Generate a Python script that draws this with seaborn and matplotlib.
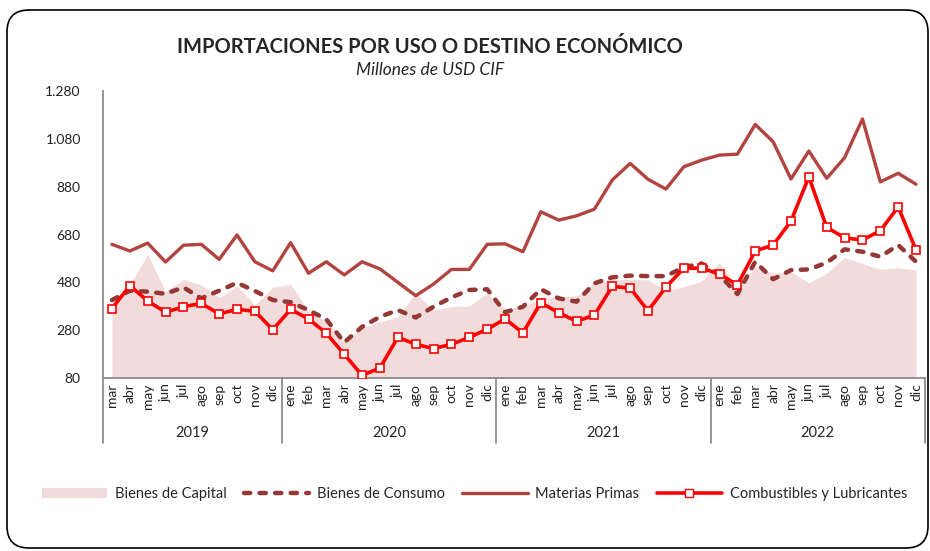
import matplotlib
matplotlib.use("Agg")
import matplotlib.pyplot as plt
import seaborn as sns
import numpy as np
from matplotlib.patches import Patch, FancyBboxPatch
from matplotlib.ticker import FuncFormatter

# months from mar 2019 to dic 2022
meses = ["mar", "abr", "may", "jun", "jul", "ago", "sep", "oct", "nov", "dic",
         "ene", "feb", "mar", "abr", "may", "jun", "jul", "ago", "sep", "oct", "nov", "dic",
         "ene", "feb", "mar", "abr", "may", "jun", "jul", "ago", "sep", "oct", "nov", "dic",
         "ene", "feb", "mar", "abr", "may", "jun", "jul", "ago", "sep", "oct", "nov", "dic"]
anios = ["2019", "2020", "2021", "2022"]
meses_por_anio = [10, 12, 12, 12]

capital = [400, 470, 597, 441, 493, 469, 416, 465, 385, 459,
           472, 360, 320, 230, 290, 315, 336, 434, 364, 378, 381, 434,
           371, 378, 413, 420, 423, 478, 493, 493, 490, 445, 462, 485,
           562, 455, 545, 518, 524, 478, 518, 584, 559, 534, 541, 531]
consumo = [406, 445, 441, 432, 459, 413, 445, 478, 444, 406,
           397, 364, 325, 229, 294, 336, 364, 333, 378, 417, 448, 451,
           355, 378, 451, 413, 399, 476, 501, 508, 506, 506, 543, 559,
           510, 431, 566, 493, 531, 534, 562, 618, 608, 587, 636, 566]
materias = [639, 611, 644, 565, 635, 639, 576, 678, 566, 528,
            646, 518, 566, 511, 566, 536, 480, 424, 473, 534, 534, 639,
            641, 608, 775, 740, 758, 786, 908, 977, 911, 870, 963, 991,
            1012, 1016, 1140, 1068, 912, 1029, 915, 1001, 1163, 900, 936, 890]
combustibles = [370, 466, 402, 355, 378, 392, 348, 367, 359, 282,
                367, 327, 267, 179, 91, 122, 250, 221, 203, 221, 250, 284,
                327, 269, 395, 353, 317, 343, 463, 456, 361, 460, 539, 539,
                515, 469, 611, 636, 736, 921, 710, 666, 657, 696, 795, 615]

sns.set_style("white")
plt.rcParams['font.family'] = ['Lato', 'DejaVu Sans']

c_capital = "#F2DCDB"
c_consumo = "#953735"
c_materias = "#B3433F"
c_comb = "#FF0000"
gris = "#8C8C8C"

fig = plt.figure(figsize=(9.3, 5.51), dpi=100)
ax = fig.add_axes([103/930, 1-378/551, 822/930, 287/551])

x = np.arange(len(meses))
ax.fill_between(x, 0, capital, color=c_capital, linewidth=0, zorder=1)
sns.lineplot(x=x, y=consumo, ax=ax, color=c_consumo, linewidth=3.2,
             linestyle=(0, (1.4, 2.1)), dash_capstyle='round', zorder=2)
sns.lineplot(x=x, y=materias, ax=ax, color=c_materias, linewidth=2.4, zorder=3)
sns.lineplot(x=x, y=combustibles, ax=ax, color=c_comb, linewidth=2.6, marker='s',
             markersize=6, markerfacecolor='white', markeredgecolor=c_comb,
             markeredgewidth=1.2, zorder=4)

ax.set_xlim(-0.5, len(meses) - 0.5)
ax.set_ylim(80, 1280)
ax.set_yticks(np.arange(80, 1281, 200))
ax.yaxis.set_major_formatter(FuncFormatter(lambda v, p: f"{v:,.0f}".replace(",", ".")))
ax.set_xticks(x)
ax.set_xticklabels(meses, rotation=90, fontsize=10)
ax.tick_params(axis='both', length=0, pad=4, colors='#222222')
ax.tick_params(axis='y', labelsize=10, pad=16)
ax.tick_params(axis='x', pad=4)
for s in ['top', 'right']:
    ax.spines[s].set_visible(False)
for s in ['left', 'bottom']:
    ax.spines[s].set_color(gris)
    ax.spines[s].set_linewidth(1.3)

# year separators and labels under the month labels
trans = ax.get_xaxis_transform()
bordes = np.concatenate([[0], np.cumsum(meses_por_anio)]) - 0.5
for b in bordes:
    ax.plot([b, b], [0, -0.225], transform=trans, color=gris, lw=1.3, clip_on=False)
for i, a in enumerate(anios):
    ax.text((bordes[i] + bordes[i+1]) / 2, -0.19, a, transform=trans,
            ha='center', va='center', fontsize=10.5)

fig.text(0.4624, 1-47/551, "IMPORTACIONES POR USO O DESTINO ECONÓMICO",
         ha='center', va='center', fontsize=14.5, fontweight='bold')
fig.text(0.4624, 1-70/551, "Millones de USD CIF", ha='center', va='center',
         fontsize=12.5, style='italic')

handles = [Patch(facecolor=c_capital, edgecolor='none'),
           plt.Line2D([], [], color=c_consumo, lw=3.2, linestyle=(0, (1.4, 2.1)),
                      dash_capstyle='round'),
           plt.Line2D([], [], color=c_materias, lw=2.4),
           plt.Line2D([], [], color=c_comb, lw=2.6, marker='s', markersize=6,
                      markerfacecolor='white', markeredgecolor=c_comb)]
labels = ["Bienes de Capital", "Bienes de Consumo", "Materias Primas",
          "Combustibles y Lubricantes"]
fig.legend(handles, labels, loc='center', bbox_to_anchor=(0.51, 1-494/551),
           ncol=4, frameon=False, fontsize=10.5, handlelength=4.5,
           columnspacing=1.2, handletextpad=0.5)

# rounded outer frame
marco = FancyBboxPatch((0.07, 0.03), 9.21, 5.38, boxstyle="round,pad=0,rounding_size=0.22",
                       transform=fig.dpi_scale_trans, facecolor='none',
                       edgecolor='black', linewidth=1.2)
fig.patches.append(marco)

fig.savefig("out.png", dpi=100)
